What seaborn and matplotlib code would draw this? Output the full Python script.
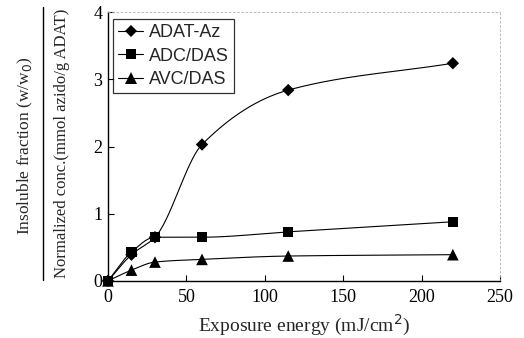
import matplotlib
matplotlib.use("Agg")
import matplotlib.pyplot as plt
from matplotlib.lines import Line2D
import numpy as np
import pandas as pd
import seaborn as sns

# exposure energy (mJ/cm2)
energy = [0, 15, 30, 60, 115, 220]
adat_az = [0.0, 0.39, 0.65, 2.03, 2.84, 3.24]
adc_das = [0.0, 0.43, 0.65, 0.65, 0.73, 0.88]
avc_das = [0.0, 0.16, 0.28, 0.32, 0.37, 0.39]

series_names = ["ADAT-Az", "ADC/DAS", "AVC/DAS"]
series_markers = {"ADAT-Az": "D", "ADC/DAS": "s", "AVC/DAS": "^"}
marker_area = {"ADAT-Az": 40, "ADC/DAS": 55, "AVC/DAS": 70}

x_ticks = [0, 50, 100, 150, 200, 250]
y_ticks = [0, 1, 2, 3, 4]


def pchip(x, y, xs):
    """Monotone cubic curve through the measured points (for the drawn line)."""
    x = np.asarray(x, float)
    y = np.asarray(y, float)
    h = np.diff(x)
    d = np.diff(y) / h
    m = np.zeros_like(y)
    for k in range(1, len(x) - 1):
        if d[k - 1] * d[k] > 0:
            w1 = 2 * h[k] + h[k - 1]
            w2 = h[k] + 2 * h[k - 1]
            m[k] = (w1 + w2) / (w1 / d[k - 1] + w2 / d[k])
    m[0] = d[0]
    m[-1] = d[-1]
    idx = np.clip(np.searchsorted(x, xs) - 1, 0, len(h) - 1)
    t = (xs - x[idx]) / h[idx]
    h00 = 2 * t**3 - 3 * t**2 + 1
    h10 = t**3 - 2 * t**2 + t
    h01 = -2 * t**3 + 3 * t**2
    h11 = t**3 - t**2
    return (h00 * y[idx] + h10 * h[idx] * m[idx]
            + h01 * y[idx + 1] + h11 * h[idx] * m[idx + 1])


df = pd.DataFrame({
    "energy": energy * 3,
    "value": adat_az + adc_das + avc_das,
    "series": np.repeat(series_names, len(energy)),
})

sns.set_theme(style="ticks")
plt.rcParams["font.family"] = ["Liberation Serif", "DejaVu Serif"]

fig = plt.figure(figsize=(5.24, 3.38), dpi=100)
ax = fig.add_axes([0.206, 0.169, 0.748, 0.795])

xs = np.linspace(0, 220, 400)
for name in series_names:
    sub = df[df["series"] == name]
    ax.plot(xs, pchip(sub["energy"], sub["value"], xs), color="black",
            lw=0.8, zorder=2)

sns.scatterplot(data=df, x="energy", y="value", hue="series", style="series",
                size="series", sizes=marker_area,
                markers=series_markers, palette=["black"] * 3,
                edgecolor="black", linewidth=0, legend=False, ax=ax,
                zorder=3, clip_on=False)

ax.set_xlim(0, 250)
ax.set_ylim(0, 4)
ax.set_xticks(x_ticks)
ax.set_yticks(y_ticks)
ax.tick_params(direction="in", length=4, width=0.8, labelsize=13,
               colors="black")
ax.tick_params(axis="x", pad=6)
ax.tick_params(axis="y", pad=4)
for side in ["left", "bottom"]:
    ax.spines[side].set_color("black")
    ax.spines[side].set_linewidth(1.0)
for side in ["top", "right"]:
    ax.spines[side].set_color("#b0b0b0")
    ax.spines[side].set_linewidth(0.6)
    ax.spines[side].set_linestyle((0, (2, 3)))

ax.set_xlabel("Exposure energy (mJ/cm$^2$)", fontsize=14, labelpad=5)
ax.set_ylabel("")

# fraction-style y label
fig.text(0.048, 0.568, "Insoluble fraction (w/w$_0$)", rotation=90,
         ha="center", va="center", fontsize=12.5)
fig.add_artist(Line2D([0.082, 0.082], [0.172, 0.98], color="black",
                      lw=1.0, transform=fig.transFigure))
fig.text(0.119, 0.577, "Normalized conc.(mmol azido/g ADAT)", rotation=90,
         ha="center", va="center", fontsize=12)

handles = [Line2D([], [], color="black", lw=0.8,
                  marker=series_markers[n],
                  markersize=np.sqrt(marker_area[n]) * 0.95,
                  markeredgewidth=0)
           for n in series_names]
leg = ax.legend(handles, series_names, loc="upper left",
                bbox_to_anchor=(0.012, 0.975), frameon=True, fancybox=False,
                edgecolor="black", handlelength=1.4, handletextpad=0.3,
                borderpad=0.3, borderaxespad=0, labelspacing=0.35,
                prop={"family": "Liberation Sans", "size": 13})
leg.get_frame().set_linewidth(0.9)

fig.savefig("out.png", dpi=100, facecolor="white")
